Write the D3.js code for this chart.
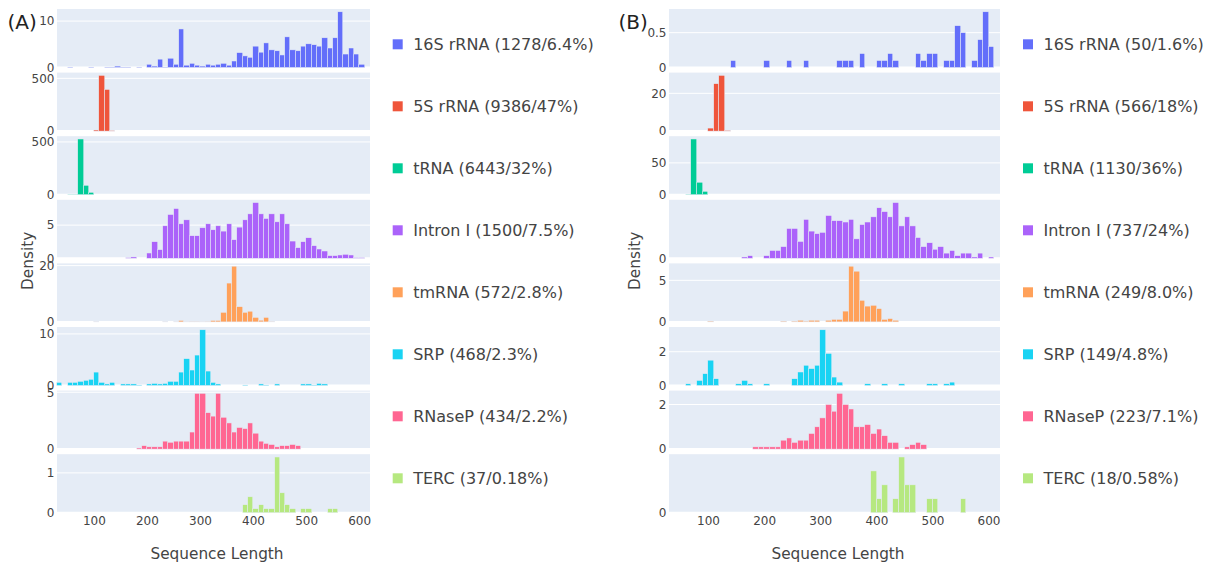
<!DOCTYPE html>
<html>
<head>
<meta charset="utf-8">
<script src="https://cdn.jsdelivr.net/npm/d3@7"></script>
<style>
  body { margin: 0; background: #fff; }
  svg { display: block; font-family: "DejaVu Sans", Verdana, sans-serif; }
</style>
</head>
<body>
<svg id="chart" width="1212" height="563"></svg>
<script>
// RNA families, one subplot row each
const rnaTypes = ["16S rRNA", "5S rRNA", "tRNA", "Intron I", "tmRNA", "SRP", "RNaseP", "TERC"];
const colors = ["#636EFA", "#EF553B", "#00CC96", "#AB63FA", "#FFA15A", "#19D3F3", "#FF6692", "#B6E880"];

const countsA = [1278, 9386, 6443, 1500, 572, 468, 434, 37];
const sharesA = ["6.4%", "47%", "32%", "7.5%", "2.8%", "2.3%", "2.2%", "0.18%"];
const countsB = [50, 566, 1130, 737, 249, 149, 223, 18];
const sharesB = ["1.6%", "18%", "36%", "24%", "8.0%", "4.8%", "7.1%", "0.58%"];

const xTicks = [100, 200, 300, 400, 500, 600];
const binWidth = 10;

// [bin, count] — bin 30 covers 29.5..39.5, density = count / binWidth
const a16S = [[50,1],[90,1],[120,1],[130,1],[140,3],[150,1],[160,1],[180,1],[200,7],[210,3],[220,18],[230,1],
  [240,20],[250,7],[260,83],[270,5],[280,9],[290,5],[300,3],[310,7],[320,5],[330,7],[340,9],[350,5],[360,14],
  [370,32],[380,25],[390,22],[400,46],[410,33],[420,53],[430,38],[440,36],[450,27],[460,66],[470,38],[480,36],
  [490,46],[500,51],[510,49],[520,46],[530,64],[540,42],[550,64],[560,120],[570,29],[580,42],[590,29],[600,7]];
const a5S = [[100,105],[110,5280],[120,3945],[130,56]];
const aTRNA = [[50,23],[60,25],[70,5280],[80,890],[90,225]];
const aIntron = [[160,1],[170,2],[200,8],[210,25],[220,13],[230,49],[240,66],[250,75],[260,52],[270,58],[280,34],
  [290,34],[300,46],[310,52],[320,43],[330,49],[340,41],[350,52],[360,28],[370,47],[380,58],[390,67],[400,84],
  [410,67],[420,60],[430,67],[440,55],[450,67],[460,52],[470,26],[480,16],[490,25],[500,31],[510,19],[520,14],
  [530,11],[540,4],[550,4],[560,5],[570,6],[580,5],[590,1],[600,1]];
const aTmRNA = [[100,1],[230,1],[250,1],[260,5],[270,1],[280,2],[290,2],[300,1],[310,2],[320,5],[330,5],[340,34],
  [350,138],[360,198],[370,54],[380,34],[390,38],[400,16],[410,6],[420,16],[430,2]];
const aSRP = [[30,6],[50,6],[60,6],[70,8],[80,10],[90,12],[100,26],[110,6],[120,3],[130,6],[150,3],[160,3],[170,3],
  [180,1],[200,3],[210,4],[220,3],[230,4],[240,8],[250,8],[260,26],[270,52],[280,30],[290,59],[300,108],[310,28],
  [320,6],[330,3],[380,1],[410,3],[420,1],[440,3],[490,3],[500,3],[510,1],[520,4],[530,3]];
const aRNaseP = [[180,1],[190,3],[200,2],[210,2],[220,2],[230,7],[240,6],[250,7],[260,7],[270,7],[280,15],[290,49],
  [300,49],[310,32],[320,29],[330,49],[340,28],[350,23],[360,15],[370,19],[380,18],[390,23],[400,14],[410,7],
  [420,5],[430,4],[440,2],[450,3],[460,3],[470,4],[480,3]];
const aTERC = [[380,2],[390,4],[400,1],[410,2],[420,1],[430,1],[440,14],[450,5],[460,2],[470,1],[490,1],[500,1],
  [540,1],[550,1]];

const b16S = [[140,1],[200,1],[240,1],[270,1],[330,1],[340,1],[350,1],[370,2],[400,1],[410,1],[420,2],[430,1],
  [470,2],[480,1],[490,2],[500,2],[520,1],[530,1],[540,6],[550,5],[570,1],[580,4],[590,8],[600,3]];
const b5S = [[100,16],[110,251],[120,295],[130,4]];
const bTRNA = [[60,5],[70,876],[80,196],[90,53]];
const bIntron = [[160,1],[170,2],[200,2],[210,6],[220,6],[230,9],[240,23],[250,23],[260,13],[270,30],[280,21],
  [290,19],[300,20],[310,33],[320,29],[330,29],[340,28],[350,30],[360,15],[370,26],[380,28],[390,32],[400,39],
  [410,36],[420,32],[430,43],[440,25],[450,32],[460,25],[470,16],[480,9],[490,12],[500,7],[510,9],[520,4],
  [530,6],[540,2],[550,4],[560,4],[570,1],[580,4],[600,1]];
const bTmRNA = [[100,1],[230,1],[250,1],[260,2],[270,1],[280,2],[290,2],[310,2],[320,3],[330,3],[340,13],[350,67],
  [360,61],[370,26],[380,19],[390,20],[400,16],[410,3],[420,4],[430,2]];
const bSRP = [[60,1],[80,3],[90,7],[100,15],[110,4],[150,1],[160,3],[170,1],[200,1],[250,4],[260,8],[270,12],
  [280,10],[290,12],[300,33],[310,19],[320,5],[330,2],[380,1],[410,1],[440,1],[490,1],[500,1],[520,1],[530,2]];
const bRNaseP = [[180,1],[190,1],[200,1],[210,1],[220,1],[230,4],[240,5],[250,3],[260,4],[270,4],[280,7],[290,10],
  [300,14],[310,20],[320,17],[330,25],[340,20],[350,18],[360,10],[370,10],[380,11],[390,7],[400,9],[410,6],
  [420,3],[430,3],[450,1],[460,2],[470,3],[480,2]];
const bTERC = [[390,3],[400,1],[410,2],[430,1],[440,4],[450,2],[460,2],[490,1],[500,1],[550,1]];

const histA = [a16S, a5S, aTRNA, aIntron, aTmRNA, aSRP, aRNaseP, aTERC];
const histB = [b16S, b5S, bTRNA, bIntron, bTmRNA, bSRP, bRNaseP, bTERC];

// ── layout ──────────────────────────────────────────
const BG = "#E5ECF6", TXT = "#444";
const TOP = 9, BOTTOM = 512.7, GAP = 5.1;
const ROW_H = (BOTTOM - TOP - GAP * (rnaTypes.length - 1)) / rnaTypes.length;

const svg = d3.select("#chart");
svg.append("rect").attr("width", 1212).attr("height", 563).attr("fill", "#fff");

// plotly-ish tick step: range/2 rounded up to 1-2-5
function tickStep(range) {
  const rough = range / 2;
  const base = Math.pow(10, Math.floor(Math.log10(rough)));
  const r = rough / base;
  const m = [1, 2, 5, 10].find(v => v >= r - 1e-9);
  return m * base;
}

// bar edges snapped to pixels like plotly does (0.5px outline)
const snap = v => Math.round(v) - 0.25;

function drawPanel(p) {
  const g = svg.append("g");
  const x = d3.scaleLinear().domain([29.5, 619.5]).range([p.left, p.right]);

  p.hist.forEach((bins, i) => {
    const rowTop = TOP + i * (ROW_H + GAP);
    const dens = bins.map(([b, c]) => ({ b, v: c / binWidth }));
    const yMax = d3.max(dens, d => d.v) * 1.05;
    const y = d3.scaleLinear().domain([0, yMax]).range([rowTop + ROW_H, rowTop]);
    const row = g.append("g");

    row.append("rect")
      .attr("x", p.left).attr("y", rowTop)
      .attr("width", p.right - p.left).attr("height", ROW_H)
      .attr("fill", BG);

    const step = tickStep(yMax);
    const ticks = d3.range(0, yMax + 1e-9, step).map(t => +t.toFixed(6));

    row.selectAll(".grid").data(ticks.filter(t => t > 0)).join("line")
      .attr("x1", p.left).attr("x2", p.right)
      .attr("y1", d => y(d)).attr("y2", d => y(d))
      .attr("stroke", "#fff").attr("stroke-width", 1);
    row.append("line")
      .attr("x1", p.left).attr("x2", p.right)
      .attr("y1", y(0)).attr("y2", y(0))
      .attr("stroke", "#fff").attr("stroke-width", 2);

    row.selectAll(".bar").data(dens).join("rect")
      .attr("x", d => snap(x(d.b - 0.5)))
      .attr("width", d => snap(x(d.b - 0.5 + binWidth)) - snap(x(d.b - 0.5)))
      .attr("y", d => y(d.v))
      .attr("height", d => y(0) - y(d.v))
      .attr("fill", colors[i])
      .attr("stroke", BG).attr("stroke-width", 0.5);

    row.selectAll(".ytick").data(ticks).join("text")
      .attr("x", p.left - 2.5).attr("y", d => y(d))
      .attr("dy", "0.36em")
      .attr("text-anchor", "end")
      .attr("font-size", 12).attr("fill", TXT)
      .text(d => String(d));

    // legend entry
    const ly = 44.3 + i * 62;
    g.append("rect")
      .attr("x", p.legendX).attr("y", ly - 5)
      .attr("width", 10).attr("height", 10)
      .attr("fill", colors[i]);
    g.append("text")
      .attr("x", p.legendX + 20.5).attr("y", ly + 5.7)
      .attr("font-size", 16).attr("fill", TXT)
      .text(`${rnaTypes[i]} (${p.counts[i]}/${p.shares[i]})`);
  });

  // x tick labels under the last row
  g.selectAll(".xtick").data(xTicks).join("text")
    .attr("x", d => x(d)).attr("y", 525)
    .attr("text-anchor", "middle")
    .attr("font-size", 12).attr("fill", TXT)
    .text(d => d);

  g.append("text")
    .attr("x", (p.left + p.right) / 2 + 3.5).attr("y", 558.5)
    .attr("text-anchor", "middle")
    .attr("font-size", 15.3).attr("fill", TXT)
    .text("Sequence Length");

  g.append("text")
    .attr("transform", `translate(${p.densityX},${(TOP + BOTTOM) / 2}) rotate(-90)`)
    .attr("text-anchor", "middle")
    .attr("font-size", 15.3).attr("fill", TXT)
    .text("Density");

  g.append("text")
    .attr("x", p.labelX).attr("y", 29)
    .attr("font-size", 20).attr("fill", "#222")
    .text(p.label);
}

drawPanel({ label: "(A)", hist: histA, counts: countsA, shares: sharesA,
  left: 57, right: 370, legendX: 392.7, densityX: 33, labelX: 7.5 });
drawPanel({ label: "(B)", hist: histB, counts: countsB, shares: sharesB,
  left: 669, right: 1000, legendX: 1023, densityX: 640, labelX: 618.5 });
</script>
</body>
</html>
